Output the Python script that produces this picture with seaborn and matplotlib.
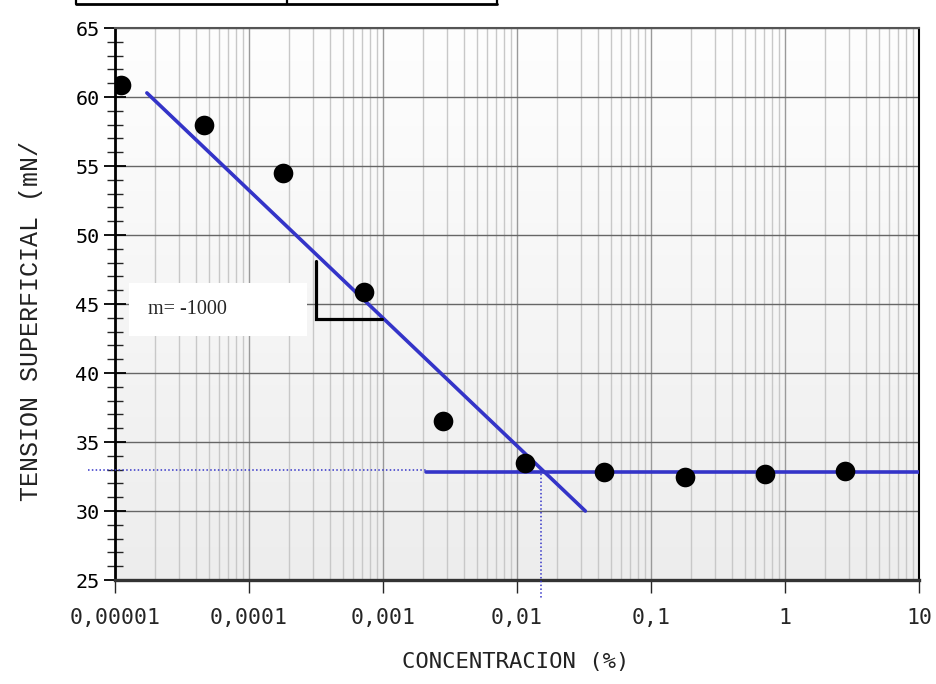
import matplotlib
matplotlib.use("Agg")
import matplotlib.pyplot as plt
import numpy as np
import pandas as pd
import seaborn as sns
from matplotlib.ticker import FixedLocator, MultipleLocator, LogLocator, NullFormatter
from matplotlib.lines import Line2D
from matplotlib.font_manager import FontProperties

# puntos medidos
concentracion = [1.1e-5, 4.6e-5, 1.8e-4, 7.2e-4, 2.8e-3, 0.0114, 0.045, 0.18, 0.71, 2.8]
tension = [60.9, 58.0, 54.5, 45.9, 36.5, 33.5, 32.8, 32.5, 32.7, 32.9]

# rectas de ajuste
recta_x = [1.73e-5, 0.0324]
recta_y = [60.3, 30.0]
meseta_x = [2.1e-3, 10]
meseta_y = [32.85, 32.85]

# punto de corte (CMC)
cmc_x = 0.0152
cmc_y = 33.0
guia_izq = 6.3e-6
guia_fin = 2.1e-3
guia_abajo = 23.6

# triangulo de pendiente
tri_x = [3.18e-4, 3.18e-4, 9.8e-4]
tri_y = [48.1, 43.9, 43.9]
pendiente = "m= -1000"

xticks = [1e-5, 1e-4, 1e-3, 1e-2, 1e-1, 1, 10]
xticklabels = ["0,00001", "0,0001", "0,001", "0,01", "0,1", "1", "10"]
yticks = [25, 30, 35, 40, 45, 50, 55, 60, 65]

sns.set_style("ticks")
plt.rcParams['font.family'] = ['DejaVu Sans Mono', 'DejaVu Sans']

fig = plt.figure(figsize=(9.37, 6.84), dpi=100)
ax = fig.add_axes([0.1227, 0.152, 0.858, 0.807])

# fondo degradado
grad = np.linspace(0, 1, 256).reshape(-1, 1)
ax.imshow(grad, extent=[0, 1, 0, 1], transform=ax.transAxes, aspect='auto',
          cmap=matplotlib.colors.LinearSegmentedColormap.from_list('g', ['#ededed', '#fefefe']),
          origin='lower', zorder=0)
ax.set_facecolor('white')

ax.set_xscale('log')
ax.set_xlim(1e-5, 10)
ax.set_ylim(25, 65)

# rejilla
ax.xaxis.set_minor_locator(LogLocator(base=10, subs=np.arange(2, 10)))
ax.xaxis.set_minor_formatter(NullFormatter())
ax.grid(which='minor', axis='x', color='#c8c8c8', lw=1.0, zorder=1)
ax.grid(which='major', axis='x', color='#9a9a9a', lw=1.0, zorder=1)
ax.grid(which='major', axis='y', color='#666666', lw=1.0, zorder=1)

df = pd.DataFrame({'conc': concentracion, 'tension': tension})
sns.scatterplot(data=df, x='conc', y='tension', ax=ax, color='black', s=200,
                edgecolor='black', linewidth=0, zorder=5)
sns.lineplot(x=recta_x, y=recta_y, ax=ax, color='#3434c8', lw=2.6, zorder=4)
sns.lineplot(x=meseta_x, y=meseta_y, ax=ax, color='#3434c8', lw=2.6, zorder=4)

# lineas guia punteadas
ax.plot([guia_izq, guia_fin], [cmc_y, cmc_y], ls=(0, (1, 1.5)), color='#3434c8', lw=1.1,
        clip_on=False, zorder=3)
ax.plot([cmc_x, cmc_x], [cmc_y, guia_abajo], ls=(0, (1, 1.5)), color='#3434c8', lw=1.1,
        clip_on=False, zorder=3)

# triangulo de pendiente
ax.plot(tri_x, tri_y, color='black', lw=2.3, zorder=4, solid_joinstyle='miter')

# caja de la pendiente
box = matplotlib.patches.Rectangle((0.0174, 0.442), 0.221, 0.097, transform=ax.transAxes,
                                   fc='white', ec='none', zorder=5)
ax.add_patch(box)
ax.text(0.041, 0.491, pendiente, transform=ax.transAxes, fontsize=14.5,
        family='Liberation Serif', va='center', ha='left', zorder=6)

# ejes
ax.set_xticks(xticks)
ax.set_xticklabels(xticklabels)
ax.yaxis.set_major_locator(FixedLocator(yticks))
ax.yaxis.set_minor_locator(MultipleLocator(1))
ax.tick_params(axis='y', which='major', direction='inout', length=16, width=1.3,
               labelsize=14.5, pad=3, colors='black')
ax.tick_params(axis='y', which='minor', direction='inout', length=11.5, width=1.0)
ax.tick_params(axis='x', which='major', direction='out', length=9, width=1.0,
               labelsize=15.5, pad=11)
ax.tick_params(axis='x', which='minor', length=0)

ax.spines['left'].set_color('black')
ax.spines['left'].set_linewidth(2.0)
ax.spines['bottom'].set_color('#333333')
ax.spines['bottom'].set_linewidth(2.4)
ax.spines['right'].set_color('black')
ax.spines['right'].set_linewidth(1.5)
ax.spines['top'].set_color('#555555')
ax.spines['top'].set_linewidth(1.5)

ax.set_ylabel("TENSION SUPERFICIAL (mN/", color='#222222')
ax.yaxis.label.set_fontproperties(FontProperties(family='Liberation Mono', size=18))
ax.yaxis.set_label_coords(-0.09, 0.47)
ax.set_xlabel("CONCENTRACION (%)", fontsize=16, color='#222222')
ax.xaxis.set_label_coords(0.499, -0.13)

# tabla cortada arriba
fig.add_artist(Line2D([76 / 937, 497 / 937], [1 - 3.5 / 684, 1 - 3.5 / 684], color='black', lw=2.0))
for xp in [76, 287, 497]:
    fig.add_artist(Line2D([xp / 937, xp / 937], [1 - 3.5 / 684, 1.0], color='black', lw=1.6))

fig.savefig("out.png", dpi=100)
